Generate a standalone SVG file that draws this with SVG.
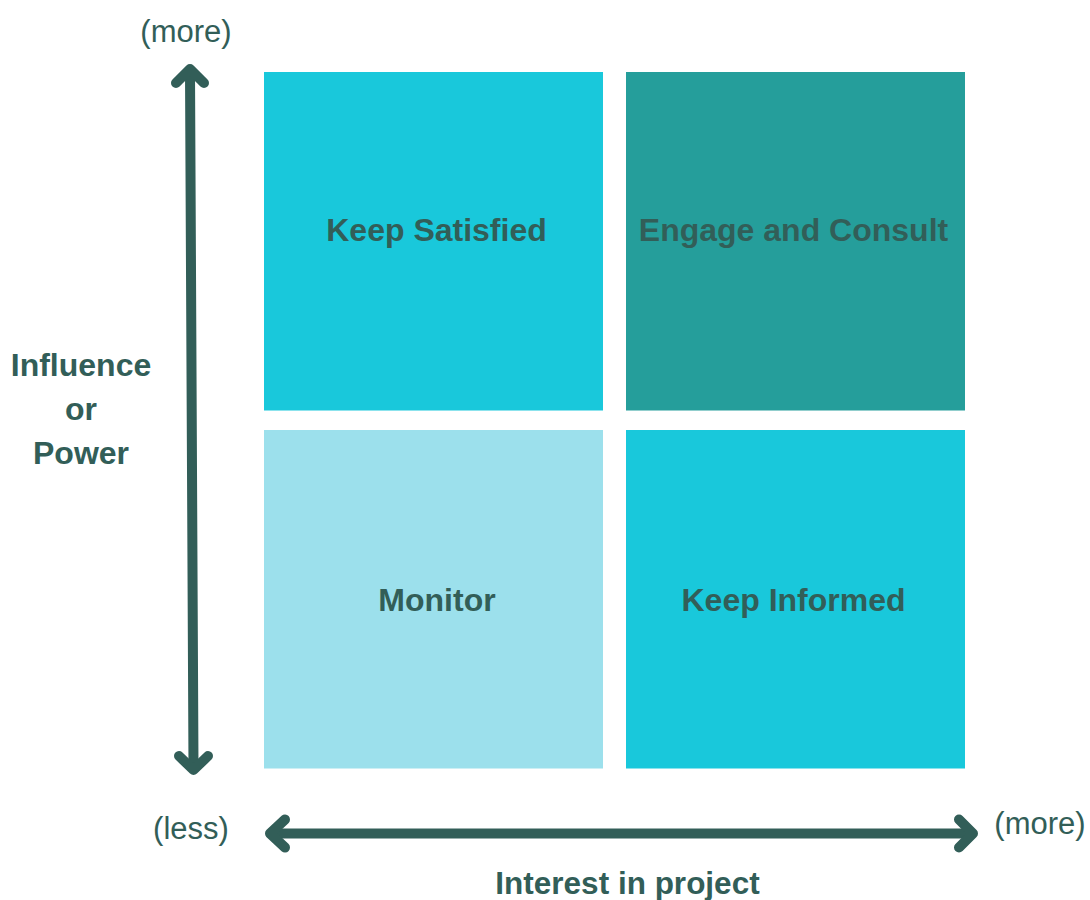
<svg xmlns="http://www.w3.org/2000/svg" width="1090" height="900" viewBox="0 0 1090 900">
<style>
.q{stroke:none}
.lbl{font-family:"Liberation Sans",Arial,sans-serif;font-weight:bold;font-size:32px;fill:#325E58;text-anchor:middle}
.reg{font-family:"Liberation Sans",Arial,sans-serif;font-size:31px;fill:#325E58;text-anchor:middle}
.ax{fill:none;stroke:#325E58;stroke-width:10;stroke-linecap:round;stroke-linejoin:round}
</style>
<rect width="1090" height="900" fill="#ffffff"/>
<g id="keep-satisfied">
<rect class="q" x="264" y="72" width="339" height="338.5" fill="#19C8DB"/>
<text class="lbl" x="436.5" y="241">Keep Satisfied</text>
</g>
<g id="engage-consult">
<rect class="q" x="626" y="72" width="339" height="338.5" fill="#259E9B"/>
<text class="lbl" x="793.5" y="241">Engage and Consult</text>
</g>
<g id="monitor">
<rect class="q" x="264" y="430" width="339" height="338.5" fill="#9CE0EC"/>
<text class="lbl" x="437" y="611">Monitor</text>
</g>
<g id="keep-informed">
<rect class="q" x="626" y="430" width="339" height="338.5" fill="#19C8DB"/>
<text class="lbl" x="793.5" y="611">Keep Informed</text>
</g>
<g id="connectors">
<path class="ax" d="M190,72 L193.5,768"/>
<path class="ax" d="M176,83 L190,69 L204,83"/>
<path class="ax" d="M179,756 L193.5,770 L208,756"/>
<path class="ax" d="M272,833.5 L971,833.5"/>
<path class="ax" d="M285,819.5 L270,833.5 L285,847.5"/>
<path class="ax" d="M959,819.5 L973,833.5 L959,847.5"/>
</g>
<g id="labels">
<text class="reg" x="186" y="42">(more)</text>
<text class="reg" x="191" y="839">(less)</text>
<text class="reg" x="1040" y="834">(more)</text>
<text class="lbl" x="81" y="376">Influence</text>
<text class="lbl" x="81" y="420">or</text>
<text class="lbl" x="81" y="464">Power</text>
<text class="lbl" x="627.5" y="894" style="font-size:31.5px">Interest in project</text>
</g>
</svg>
